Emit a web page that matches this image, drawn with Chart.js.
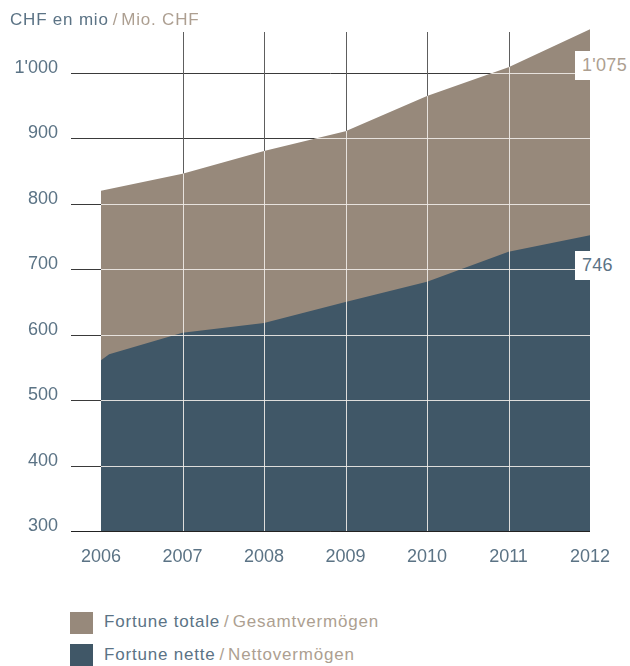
<!DOCTYPE html>
<html>
<head>
<meta charset="utf-8">
<script src="https://cdn.jsdelivr.net/npm/chart.js@4"></script>
<style>
  html, body { margin: 0; padding: 0; background: #fff; }
  body { width: 630px; height: 666px; position: relative; overflow: hidden; font-family: "Liberation Sans", Arial, sans-serif; }
  #wrap { position: absolute; left: 0; top: 0; width: 630px; height: 600px; }
  .t { position: absolute; white-space: nowrap; font-size: 17px; line-height: 20px; letter-spacing: 0.8px; }
  .blue { color: #5b7385; }
  .tan { color: #ad9f91; }
  .sl { margin: 0 3px 0 4px; }
  .box { position: absolute; background: #fff; font-size: 18px; line-height: 29px; padding-left: 7px; width: 48px; height: 29px; letter-spacing: 0.3px; }
  .sq { position: absolute; width: 23px; height: 22px; }
</style>
</head>
<body>
<div id="wrap"><canvas id="c" width="630" height="600"></canvas></div>
<div class="t" style="left:10px;top:10px;"><span class="blue">CHF en mio</span><span class="tan"><span class="sl">/</span>Mio. CHF</span></div>
<div class="box tan" style="left:575px;top:51px;">1'075</div>
<div class="box blue" style="left:575px;top:251px;">746</div>
<div class="sq" style="left:70px;top:612px;background:#97897b;"></div>
<div class="sq" style="left:70px;top:644px;background:#405767;"></div>
<div class="t" style="left:104px;top:612px;"><span class="blue">Fortune totale</span><span class="tan"><span class="sl">/</span>Gesamtvermögen</span></div>
<div class="t" style="left:104px;top:645px;"><span class="blue">Fortune nette</span><span class="tan"><span class="sl">/</span>Nettovermögen</span></div>
<script>
// Data
const totalYears = [2006, 2007, 2008, 2009, 2010, 2011, 2012];
const totalValues = [820, 846, 881, 911, 965, 1009, 1067];
const netYears = [2006, 2006.1, 2007, 2008, 2009, 2010, 2011, 2012];
const netValues = [561, 570, 603, 618, 650, 681, 727, 752];
const yTicks = [300, 400, 500, 600, 700, 800, 900, 1000];
const xTicks = [2006, 2007, 2008, 2009, 2010, 2011, 2012];

const TAN = '#97897b';
const BLUE = '#405767';
const LABEL = '#5b7385';

const toPts = (xs, ys) => xs.map((x, i) => ({ x: x, y: ys[i] }));

const gridPlugin = {
  id: 'customGrid',
  beforeDatasetsDraw(chart) {
    const { ctx, chartArea, scales } = chart;
    const xs = scales.x, ys = scales.y;
    ctx.save();
    ctx.lineWidth = 1;
    ctx.strokeStyle = '#3a3a3a';
    yTicks.forEach(v => {
      const y = Math.round(ys.getPixelForValue(v)) + 0.5;
      ctx.beginPath();
      ctx.moveTo(71, y);
      ctx.lineTo(chartArea.right, y);
      ctx.stroke();
    });
    ctx.strokeStyle = '#5e5e5e';
    xTicks.slice(1, -1).forEach(v => {
      const x = Math.round(xs.getPixelForValue(v)) + 0.5;
      ctx.beginPath();
      ctx.moveTo(x, 32);
      ctx.lineTo(x, ys.getPixelForValue(300));
      ctx.stroke();
    });
    ctx.restore();
  },
  afterDatasetsDraw(chart) {
    const { ctx, chartArea, scales } = chart;
    const xs = scales.x, ys = scales.y;
    const meta = chart.getDatasetMeta(1);
    const pts = meta.data;
    ctx.save();
    ctx.beginPath();
    ctx.moveTo(pts[0].x, pts[0].y);
    for (let i = 1; i < pts.length; i++) ctx.lineTo(pts[i].x, pts[i].y);
    const bottom = ys.getPixelForValue(300);
    ctx.lineTo(pts[pts.length - 1].x, bottom);
    ctx.lineTo(pts[0].x, bottom);
    ctx.closePath();
    ctx.clip();
    ctx.lineWidth = 1;
    ctx.strokeStyle = 'rgba(240,236,232,0.9)';
    yTicks.slice(1).forEach(v => {
      const y = Math.round(ys.getPixelForValue(v)) + 0.5;
      ctx.beginPath();
      ctx.moveTo(chartArea.left, y);
      ctx.lineTo(chartArea.right, y);
      ctx.stroke();
    });
    xTicks.slice(1, -1).forEach(v => {
      const x = Math.round(xs.getPixelForValue(v)) + 0.5;
      ctx.beginPath();
      ctx.moveTo(x, chartArea.top);
      ctx.lineTo(x, bottom);
      ctx.stroke();
    });
    ctx.restore();
    ctx.save();
    ctx.strokeStyle = '#222';
    ctx.lineWidth = 1;
    const yb = Math.round(bottom) + 0.5;
    ctx.beginPath();
    ctx.moveTo(71, yb);
    ctx.lineTo(chartArea.right, yb);
    ctx.stroke();
    ctx.restore();
  }
};

new Chart(document.getElementById('c'), {
  type: 'line',
  data: {
    datasets: [
      {
        label: 'Fortune nette / Nettovermögen',
        data: toPts(netYears, netValues),
        backgroundColor: BLUE,
        borderColor: BLUE,
        borderWidth: 0,
        pointRadius: 0,
        fill: 'start',
        tension: 0
      },
      {
        label: 'Fortune totale / Gesamtvermögen',
        data: toPts(totalYears, totalValues),
        backgroundColor: TAN,
        borderColor: TAN,
        borderWidth: 0,
        pointRadius: 0,
        fill: 'start',
        tension: 0
      }
    ]
  },
  options: {
    responsive: false,
    animation: false,
    events: [],
    layout: { padding: { left: 0, right: 40, top: 24, bottom: 0 } },
    plugins: { legend: { display: false }, tooltip: { enabled: false } },
    scales: {
      x: {
        type: 'linear',
        min: 2006,
        max: 2012,
        grid: { display: false, drawTicks: false },
        border: { display: false },
        afterFit(s) { s.height = 69; s.paddingLeft = 0; s.paddingRight = 0; },
        ticks: {
          stepSize: 1,
          padding: 15,
          color: LABEL,
          font: { family: '"Liberation Sans", Arial, sans-serif', size: 18 },
          maxRotation: 0,
          callback: v => String(v)
        },
        afterBuildTicks(s) { s.ticks = xTicks.map(v => ({ value: v })); }
      },
      y: {
        min: 300,
        max: 1075,
        grid: { display: false, drawTicks: false },
        border: { display: false },
        afterFit(s) { s.width = 101; s.paddingTop = 0; s.paddingBottom = 0; },
        afterBuildTicks(s) { s.ticks = yTicks.map(v => ({ value: v })); },
        ticks: {
          padding: 43,
          labelOffset: -5,
          color: LABEL,
          font: { family: '"Liberation Sans", Arial, sans-serif', size: 18 },
          callback: v => v >= 1000 ? Math.floor(v / 1000) + "'" + String(v % 1000).padStart(3, '0') : String(v)
        }
      }
    }
  },
  plugins: [gridPlugin]
});
</script>
</body>
</html>
